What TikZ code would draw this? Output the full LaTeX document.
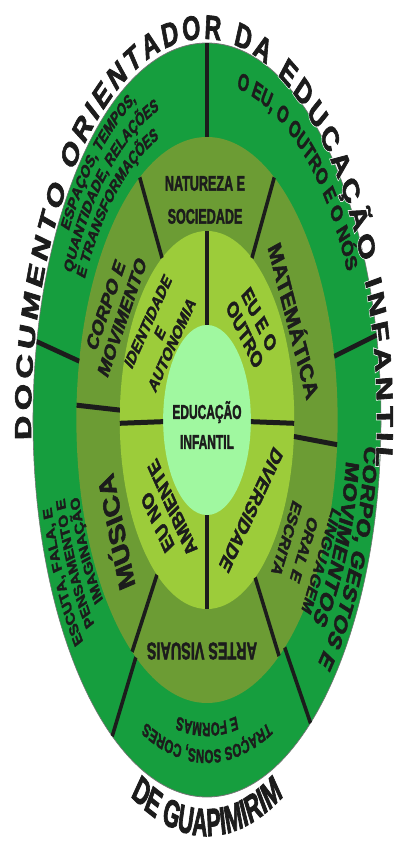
\documentclass[tikz,border=0pt]{standalone}
\usepackage{fontspec}
\usetikzlibrary{decorations.text}
\newfontfamily\lab{Liberation Sans Bold}[FakeStretch=0.88,FakeBold=2.2]
\newfontfamily\ttl{Liberation Sans Bold}[FakeBold=2.5]
\newfontfamily\ttlhalo{Liberation Sans Bold}[FakeBold=7]
\newfontfamily\place{Liberation Sans Bold}[FakeStretch=0.8,FakeBold=2.5]
\newfontfamily\placehalo{Liberation Sans Bold}[FakeStretch=0.8,FakeBold=7]
\definecolor{ringouter}{RGB}{22,158,62}
\definecolor{ringolive}{RGB}{108,156,52}
\definecolor{ringlight}{RGB}{156,204,58}
\definecolor{ringcore}{RGB}{160,248,160}
\definecolor{ink}{RGB}{28,28,28}

% text set along an elliptical arc: #1 baseline y radius, #2 start angle,
% #3 end angle, #4 font size, #5 text
\newcommand\RingText[5]{%
  \path[decorate,decoration={text along path,text align=center,text color=ink,
    text={|\lab\fontsize{#4}{#4}\selectfont|#5}}]
    (#2:{0.6787*#1} and #1) arc[start angle=#2,end angle=#3,x radius={0.6787*#1},y radius=#1];}

% title arc (#1 font, #2 colour) and place-name arc
\newcommand\TitleArc[2]{%
  \path[shift={(-4.4,0)},decorate,decoration={text along path,text align={fit to path},text color=#2,
    text={|#1\fontsize{34}{34}\selectfont|DOCUMENTO ORIENTADOR DA EDUCAÇÃO INFANTIL}}]
    (183:254.4 and 381) arc[start angle=183,end angle=-7,x radius=254.4,y radius=381];}
\newcommand\PlaceArc[2]{%
  \path[decorate,decoration={text along path,text align=center,text color=#2,
    text={|#1\fontsize{39}{39}\selectfont|DE GUAPIMIRIM}}]
    (232:263 and 416) arc[start angle=232,end angle=308,x radius=263,y radius=416];}

\begin{document}
\begin{tikzpicture}[x=1pt,y=1pt,
  divider/.style={draw=ink,line width=5pt},
  lbl/.style={text=ink,align=center,inner sep=0pt},
  sz/.style 2 args={font=\lab\fontsize{#1}{#2}\selectfont}]
\fill[white] (-207,-423) rectangle (191,420);
\useasboundingbox (-207,-423) rectangle (191,420);
\begin{scope}[transform canvas={xscale=0.68}]
  % rings
  \fill[ringouter,draw=black!55,line width=0.8pt] (0,0) ellipse[x radius=255.9,y radius=377];
  \fill[ringolive] (0,0) ellipse[x radius=192.1,y radius=283];
  \fill[ringlight] (0,0) ellipse[x radius=128.3,y radius=189];
  \fill[ringcore] (0,0) ellipse[x radius=64.5,y radius=95];
  % section dividers
  \foreach \t in {90,168,237,306.5,13}
    \draw[divider] (\t:192.1 and 283) -- (\t:255.9 and 377);
  \foreach \t in {121,59,177,-5,235,303.5}
    \draw[divider] (\t:128.3 and 189) -- (\t:192.1 and 283);
  \foreach \t in {90,181,-1,270}
    \draw[divider] (\t:64.5 and 95) -- (\t:128.3 and 189);

  % outer ring
  \RingText{354}{168}{88}{19}{ESPAÇOS, TEMPOS,}
  \RingText{327}{168}{88}{19}{QUANTIDADE, RELAÇÕES}
  \RingText{300}{168}{88}{19}{E TRANSFORMAÇÕES}
  \RingText{338}{96}{14}{24}{O EU, O OUTRO E O NÓS}
  \RingText{342}{13}{-67}{28}{CORPO, GESTOS E}
  \RingText{304}{13}{-67}{28}{MOVIMENTOS}
  \RingText{330}{310}{230}{19}{TRAÇOS SONS, CORES}
  \RingText{303}{310}{230}{19}{E FORMAS}
  \RingText{348}{250}{170}{19}{ESCUTA, FALA, E}
  \RingText{318}{250}{170}{19}{PENSAMENTO E}
  \RingText{288}{250}{170}{19}{IMAGINAÇÃO}

  % middle ring
  \node[lbl,sz={21}{33}] (nature) at (-2.9,220) {NATUREZA E\\SOCIEDADE};
  \node[lbl,sz={28}{30},rotate=-69.4] (math) at (129.4,100) {MATEMÁTICA};
  \node[lbl,sz={21}{28},rotate=-113.9] (lang) at (142.6,-130) {LINGUAGEM\\ORAL E\\ESCRITA};
  \node[lbl,sz={24}{26},rotate=180] (arts) at (-7.4,-231) {ARTES VISUAIS};
  \node[lbl,sz={34}{36},rotate=106.2] (music) at (-136,-113) {MÚSICA};
  \node[lbl,sz={24}{27},rotate=63.3] (body) at (-136.8,109) {CORPO E\\MOVIMENTO};

  % inner ring
  \node[lbl,sz={20}{21},rotate=56.5] (ident) at (-69,87) {IDENTIDADE\\E\\AUTONOMIA};
  \node[lbl,sz={24}{26},rotate=-55.4] (other) at (66.2,93) {EU E O\\OUTRO};
  \node[lbl,sz={24}{27},rotate=-124.1] (divers) at (64.7,-90) {DIVERSIDADE};
  \node[lbl,sz={24}{26},rotate=123.4] (env) at (-61.8,-95) {EU NO\\AMBIENTE};

  % centre
  \node[lbl,sz={20}{30}] (core) at (0,-5) {EDUCAÇÃO\\INFANTIL};

  % title and place name, each over a white halo
  \TitleArc{\ttlhalo}{white}
  \TitleArc{\ttl}{ink}
  \PlaceArc{\placehalo}{white}
  \PlaceArc{\place}{ink}
\end{scope}
\end{tikzpicture}
\end{document}
